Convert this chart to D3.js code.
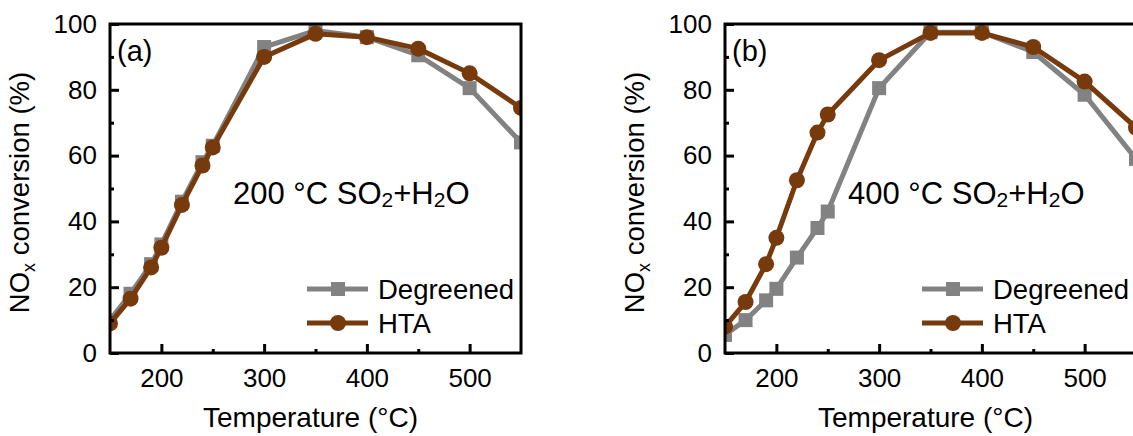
<!DOCTYPE html>
<html>
<head>
<meta charset="utf-8">
<script src="https://cdn.jsdelivr.net/npm/d3@7"></script>
<style>
  body { margin: 0; background: #fff; }
  text { font-family: "Liberation Sans", Arial, sans-serif; fill: #000; }
</style>
</head>
<body>
<svg id="chart" width="1133" height="436"></svg>
<script>
// temperatures (°C)
const temps = [150, 170, 190, 200, 220, 240, 250, 300, 350, 400, 450, 500, 550];

// panel (a): aged with 200 °C SO2+H2O
const degreenedA = [10, 18, 27, 33, 46, 58, 63, 93, 98, 96, 90.5, 80.5, 64];
const htaA = [9, 16.5, 26, 32, 45, 57, 62.5, 90, 97, 96, 92.5, 85, 74.5];

// panel (b): aged with 400 °C SO2+H2O
const degreenedB = [5.5, 10, 16, 19.5, 29, 38, 43, 80.5, 97.5, 97.5, 91.5, 78.5, 59];
const htaB = [8, 15.5, 27, 35, 52.5, 67, 72.5, 89, 97.3, 97.3, 93, 82.5, 68.5];

const xTicks = [200, 300, 400, 500];
const yTicks = [0, 20, 40, 60, 80, 100];
const seriesNames = ["Degreened", "HTA"];
const grey = "#828282", brown = "#773a0c";

const svg = d3.select("#chart");

function panel(left, label, title, deg, hta, legendX) {
  const top = 24, bottom = 353, w = 411;
  const x = d3.scaleLinear().domain([150, 550]).range([left, left + w]);
  const y = d3.scaleLinear().domain([0, 100]).range([bottom, top]);
  const g = svg.append("g");
  const id = "clip" + label;

  g.append("clipPath").attr("id", id)
    .append("rect").attr("x", left).attr("y", top - 12).attr("width", w).attr("height", bottom - top + 12);

  const plot = g.append("g").attr("clip-path", `url(#${id})`);
  const line = d3.line().x((d, i) => x(temps[i])).y(d => y(d));

  plot.append("path").attr("d", line(deg)).attr("fill", "none").attr("stroke", grey).attr("stroke-width", 5);
  plot.selectAll(".sq").data(deg).join("rect")
    .attr("x", (d, i) => x(temps[i]) - 7).attr("y", d => y(d) - 7)
    .attr("width", 14).attr("height", 14).attr("fill", grey);
  plot.append("path").attr("d", line(hta)).attr("fill", "none").attr("stroke", brown).attr("stroke-width", 5);
  plot.selectAll(".ci").data(hta).join("circle")
    .attr("cx", (d, i) => x(temps[i])).attr("cy", d => y(d)).attr("r", 8).attr("fill", brown);

  // frame
  g.append("rect").attr("x", left).attr("y", top).attr("width", w).attr("height", bottom - top)
    .attr("fill", "none").attr("stroke", "#000").attr("stroke-width", 3);

  // axes with inward ticks
  const xAxis = g.append("g").attr("transform", `translate(0,${bottom})`)
    .call(d3.axisBottom(x).tickValues(xTicks).tickSize(-9).tickPadding(16));
  const xMinor = g.append("g").attr("transform", `translate(0,${bottom})`)
    .call(d3.axisBottom(x).tickValues([250, 350, 450]).tickSize(-4).tickFormat(""));
  const yAxis = g.append("g").attr("transform", `translate(${left},0)`)
    .call(d3.axisLeft(y).tickValues(yTicks).tickSize(-9).tickPadding(13));
  const yMinor = g.append("g").attr("transform", `translate(${left},0)`)
    .call(d3.axisLeft(y).tickValues([10, 30, 50, 70, 90]).tickSize(-4).tickFormat(""));
  [xAxis, xMinor, yAxis, yMinor].forEach(a => {
    a.select(".domain").remove();
    a.selectAll("line").attr("stroke", "#000").attr("stroke-width", 3);
    a.selectAll("text").style("font-size", "26px").attr("fill", "#000")
      .style("font-family", "'Liberation Sans', Arial, sans-serif");
  });
  xAxis.selectAll("text").attr("dy", "0.71em");

  // panel label
  g.append("text").attr("x", left + 7).attr("y", 61).style("font-size", "29px").text(`(${label})`);

  // condition annotation
  const ann = g.append("text").attr("x", left + 123).attr("y", 204).style("font-size", "31px");
  ann.append("tspan").text(title + " SO");
  ann.append("tspan").text("2").style("font-size", "21px").attr("dy", 3);
  ann.append("tspan").text("+H").attr("dy", -3);
  ann.append("tspan").text("2").style("font-size", "21px").attr("dy", 3);
  ann.append("tspan").text("O").attr("dy", -3);

  // axis titles
  g.append("text").attr("x", left + w / 2 - 5).attr("y", 427).attr("text-anchor", "middle")
    .style("font-size", "28px").text("Temperature (°C)");
  const yt = g.append("text").attr("transform", `translate(${left - 81},${(top + bottom) / 2 + 4}) rotate(-90)`)
    .attr("text-anchor", "middle").style("font-size", "27.5px");
  yt.append("tspan").text("NO");
  yt.append("tspan").text("x").style("font-size", "18px").attr("dy", 6);
  yt.append("tspan").text(" conversion (%)").attr("dy", -6);

  // legend
  const series = [[grey, "sq"], [brown, "ci"]];
  series.forEach(([c, m], i) => {
    const ly = 289 + i * 34;
    g.append("line").attr("x1", legendX).attr("x2", legendX + 61).attr("y1", ly).attr("y2", ly)
      .attr("stroke", c).attr("stroke-width", 5);
    if (m === "sq") {
      g.append("rect").attr("x", legendX + 24).attr("y", ly - 7).attr("width", 14).attr("height", 14).attr("fill", c);
    } else {
      g.append("circle").attr("cx", legendX + 31).attr("cy", ly).attr("r", 8).attr("fill", c);
    }
    g.append("text").attr("x", legendX + 71).attr("y", ly + 10).style("font-size", "27.5px").text(seriesNames[i]);
  });
}

panel(110, "a", "200 °C", degreenedA, htaA, 307);
panel(725, "b", "400 °C", degreenedB, htaB, 922);
</script>
</body>
</html>
